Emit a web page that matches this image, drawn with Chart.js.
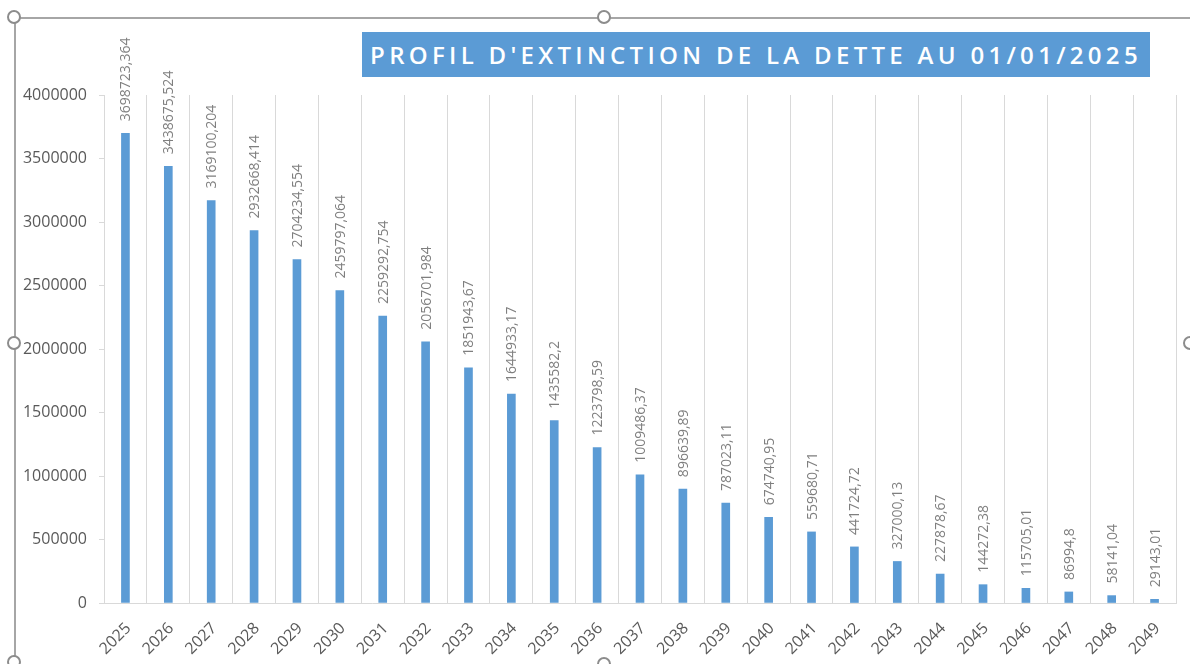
<!DOCTYPE html>
<html>
<head>
<meta charset="utf-8">
<script src="https://cdn.jsdelivr.net/npm/chart.js@4.4.1/dist/chart.umd.min.js"></script>
<style>
    html, body { margin: 0; padding: 0; background: #fff; }
    #wrap { position: relative; width: 1190px; height: 664px; overflow: hidden; }
    #frame { position: absolute; left: 14px; top: 17px; width: 1200px; height: 700px;
             border-top: 2px solid #a6a6a6; border-left: 2px solid #a6a6a6; box-sizing: border-box; }
    .handle { position: absolute; width: 10px; height: 10px; border: 2px solid #8c8c8c;
              border-radius: 50%; background: #fff; }
    #title { position: absolute; left: 362px; top: 32px; width: 788px; height: 45px;
             background: #5b9bd5; color: #fff; font: 600 24px "Open Sans", sans-serif;
             letter-spacing: 4.3px; line-height: 45px; text-align: center; white-space: nowrap; }
    canvas { position: absolute; left: 0; top: 0; }
</style>
</head>
<body>
<div id="wrap">
    <div id="frame"></div>
    <canvas id="chart" width="1190" height="664"></canvas>
    <div class="handle" style="left:7px;top:10px"></div>
    <div class="handle" style="left:597px;top:10px"></div>
    <div class="handle" style="left:7px;top:336px"></div>
    <div class="handle" style="left:1183px;top:336px"></div>
    <div class="handle" style="left:7px;top:655px"></div>
    <div class="handle" style="left:597px;top:657px"></div>
    <div id="title">PROFIL D'EXTINCTION DE LA DETTE AU 01/01/2025</div>
</div>
<script>
// Données : capital restant dû au 1er janvier de chaque année
const annees = ["2025", "2026", "2027", "2028", "2029", "2030", "2031", "2032", "2033", "2034",
    "2035", "2036", "2037", "2038", "2039", "2040", "2041", "2042", "2043", "2044",
    "2045", "2046", "2047", "2048", "2049"];
const encours = [3698723.364, 3438675.524, 3169100.204, 2932668.414, 2704234.554, 2459797.064,
    2259292.754, 2056701.984, 1851943.67, 1644933.17, 1435582.2, 1223798.59, 1009486.37,
    896639.89, 787023.11, 674740.95, 559680.71, 441724.72, 327000.13, 227878.67,
    144272.38, 115705.01, 86994.8, 58141.04, 29143.01];
const ticksY = [0, 500000, 1000000, 1500000, 2000000, 2500000, 3000000, 3500000, 4000000];

const GRID = "#d9d9d9";
const TEXTE = "#595959";

// Étiquettes verticales au-dessus des barres (virgule décimale)
const etiquettes = {
    id: "etiquettes",
    afterDatasetsDraw(chart) {
        const ctx = chart.ctx;
        const meta = chart.getDatasetMeta(0);
        ctx.save();
        ctx.fillStyle = "#7f7f7f";
        ctx.font = "14px 'Open Sans', sans-serif";
        ctx.textAlign = "left";
        ctx.textBaseline = "middle";
        meta.data.forEach((bar, i) => {
            const txt = String(encours[i]).replace(".", ",");
            ctx.save();
            ctx.translate(bar.x + 1, bar.y - 12);
            ctx.rotate(-Math.PI / 2);
            ctx.fillText(txt, 0, 0);
            ctx.restore();
        });
        ctx.restore();
    }
};

const ctx = document.getElementById("chart").getContext("2d");
const myChart = new Chart(ctx, {
    type: "bar",
    data: {
        labels: annees,
        datasets: [{
            label: "Encours",
            data: encours,
            backgroundColor: "#5b9bd5",
            barThickness: 8
        }]
    },
    options: {
        responsive: false,
        animation: false,
        layout: { padding: { top: 95, right: 14, left: 0, bottom: 0 } },
        plugins: {
            legend: { display: false },
            title: { display: false },
            tooltip: { enabled: false }
        },
        scales: {
            x: {
                offset: true,
                grid: { display: true, offset: true, color: GRID, drawTicks: false },
                border: { display: true, color: GRID },
                ticks: {
                    color: TEXTE,
                    font: { family: "'Open Sans', sans-serif", size: 16 },
                    minRotation: 45,
                    maxRotation: 45,
                    padding: 16,
                    labelOffset: 3
                },
                afterFit(scale) { scale.height = 61; }
            },
            y: {
                min: 0,
                max: 4000000,
                afterBuildTicks(scale) { scale.ticks = ticksY.map(v => ({ value: v })); },
                grid: { drawOnChartArea: false, drawTicks: true, tickLength: 5, color: GRID },
                border: { display: true, color: GRID },
                ticks: {
                    color: TEXTE,
                    font: { family: "'Open Sans', sans-serif", size: 16 },
                    padding: 12,
                    callback: v => String(v)
                },
                afterFit(scale) { scale.width = 104; }
            }
        }
    },
    plugins: [etiquettes]
});
</script>
</body>
</html>
